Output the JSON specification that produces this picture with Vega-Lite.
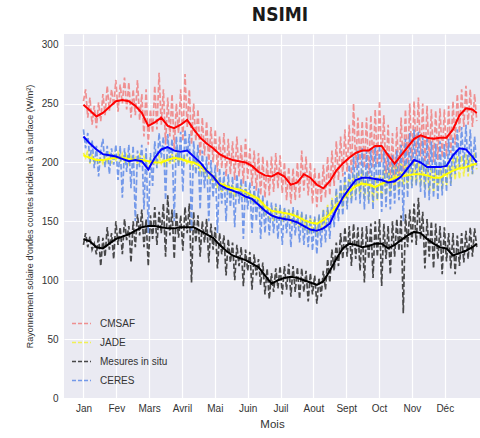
{
  "$schema": "https://vega.github.io/schema/vega-lite/v6.json",
  "width": 416,
  "height": 364,
  "autosize": {"type": "none"},
  "padding": {"left": 64, "top": 34, "right": 0, "bottom": 40},
  "background": "white",
  "title": {
    "text": "NSIMI",
    "font": "DejaVu Sans Condensed, Liberation Sans, sans-serif",
    "fontSize": 19,
    "fontWeight": "bold",
    "color": "#1a1a1a",
    "anchor": "middle",
    "dx": 8,
    "offset": 9
  },
  "config": {
    "view": {"fill": "#eaeaf2", "stroke": null},
    "font": "Liberation Sans",
    "axis": {
      "domain": false,
      "ticks": false,
      "tickSize": 0,
      "grid": true,
      "gridColor": "#ffffff",
      "gridWidth": 1.2,
      "labelColor": "#333333",
      "labelFont": "Liberation Sans",
      "labelFontSize": 10,
      "titleColor": "#333333",
      "titleFont": "Liberation Sans",
      "titleFontWeight": "normal"
    }
  },
  "datasets": {
    "brut": [
      {"jour": 0, "CMSAF": 252, "JADE": 208, "Mesures in situ": 130, "CERES": 228},
      {"jour": 2, "CMSAF": 262, "JADE": 204, "Mesures in situ": 140, "CERES": 212},
      {"jour": 4, "CMSAF": 238, "JADE": 210, "Mesures in situ": 128, "CERES": 225},
      {"jour": 6, "CMSAF": 255, "JADE": 199, "Mesures in situ": 137, "CERES": 200},
      {"jour": 8, "CMSAF": 232, "JADE": 206, "Mesures in situ": 126, "CERES": 219},
      {"jour": 10, "CMSAF": 248, "JADE": 200, "Mesures in situ": 131, "CERES": 195},
      {"jour": 12, "CMSAF": 229, "JADE": 204, "Mesures in situ": 122, "CERES": 214},
      {"jour": 14, "CMSAF": 251, "JADE": 198, "Mesures in situ": 138, "CERES": 188},
      {"jour": 16, "CMSAF": 235, "JADE": 203, "Mesures in situ": 112, "CERES": 210},
      {"jour": 18, "CMSAF": 258, "JADE": 199, "Mesures in situ": 136, "CERES": 220},
      {"jour": 20, "CMSAF": 240, "JADE": 206, "Mesures in situ": 120, "CERES": 196},
      {"jour": 22, "CMSAF": 265, "JADE": 201, "Mesures in situ": 145, "CERES": 214},
      {"jour": 24, "CMSAF": 244, "JADE": 207, "Mesures in situ": 126, "CERES": 190},
      {"jour": 26, "CMSAF": 262, "JADE": 199, "Mesures in situ": 140, "CERES": 212},
      {"jour": 28, "CMSAF": 248, "JADE": 206, "Mesures in situ": 118, "CERES": 198},
      {"jour": 30, "CMSAF": 270, "JADE": 202, "Mesures in situ": 150, "CERES": 215},
      {"jour": 32, "CMSAF": 243, "JADE": 208, "Mesures in situ": 130, "CERES": 185},
      {"jour": 34, "CMSAF": 266, "JADE": 200, "Mesures in situ": 145, "CERES": 214},
      {"jour": 36, "CMSAF": 250, "JADE": 207, "Mesures in situ": 122, "CERES": 170},
      {"jour": 38, "CMSAF": 272, "JADE": 201, "Mesures in situ": 152, "CERES": 212},
      {"jour": 40, "CMSAF": 245, "JADE": 206, "Mesures in situ": 134, "CERES": 192},
      {"jour": 42, "CMSAF": 268, "JADE": 199, "Mesures in situ": 146, "CERES": 215},
      {"jour": 44, "CMSAF": 238, "JADE": 205, "Mesures in situ": 115, "CERES": 178},
      {"jour": 46, "CMSAF": 262, "JADE": 200, "Mesures in situ": 150, "CERES": 214},
      {"jour": 48, "CMSAF": 240, "JADE": 204, "Mesures in situ": 128, "CERES": 150},
      {"jour": 50, "CMSAF": 270, "JADE": 199, "Mesures in situ": 156, "CERES": 210},
      {"jour": 52, "CMSAF": 236, "JADE": 206, "Mesures in situ": 138, "CERES": 196},
      {"jour": 54, "CMSAF": 258, "JADE": 200, "Mesures in situ": 160, "CERES": 215},
      {"jour": 56, "CMSAF": 222, "JADE": 205, "Mesures in situ": 128, "CERES": 160},
      {"jour": 58, "CMSAF": 262, "JADE": 198, "Mesures in situ": 152, "CERES": 212},
      {"jour": 60, "CMSAF": 215, "JADE": 196, "Mesures in situ": 112, "CERES": 140},
      {"jour": 62, "CMSAF": 245, "JADE": 203, "Mesures in situ": 155, "CERES": 208},
      {"jour": 64, "CMSAF": 225, "JADE": 199, "Mesures in situ": 135, "CERES": 180},
      {"jour": 66, "CMSAF": 265, "JADE": 204, "Mesures in situ": 162, "CERES": 218},
      {"jour": 68, "CMSAF": 228, "JADE": 198, "Mesures in situ": 130, "CERES": 195},
      {"jour": 70, "CMSAF": 276, "JADE": 205, "Mesures in situ": 158, "CERES": 225},
      {"jour": 72, "CMSAF": 232, "JADE": 199, "Mesures in situ": 140, "CERES": 204},
      {"jour": 74, "CMSAF": 262, "JADE": 204, "Mesures in situ": 165, "CERES": 222},
      {"jour": 76, "CMSAF": 215, "JADE": 196, "Mesures in situ": 120, "CERES": 168},
      {"jour": 78, "CMSAF": 255, "JADE": 206, "Mesures in situ": 172, "CERES": 224},
      {"jour": 80, "CMSAF": 222, "JADE": 198, "Mesures in situ": 138, "CERES": 200},
      {"jour": 82, "CMSAF": 258, "JADE": 207, "Mesures in situ": 160, "CERES": 220},
      {"jour": 84, "CMSAF": 210, "JADE": 200, "Mesures in situ": 118, "CERES": 150},
      {"jour": 86, "CMSAF": 250, "JADE": 208, "Mesures in situ": 158, "CERES": 222},
      {"jour": 88, "CMSAF": 225, "JADE": 199, "Mesures in situ": 136, "CERES": 196},
      {"jour": 90, "CMSAF": 262, "JADE": 206, "Mesures in situ": 155, "CERES": 226},
      {"jour": 92, "CMSAF": 218, "JADE": 200, "Mesures in situ": 125, "CERES": 175},
      {"jour": 94, "CMSAF": 275, "JADE": 205, "Mesures in situ": 162, "CERES": 228},
      {"jour": 96, "CMSAF": 230, "JADE": 198, "Mesures in situ": 140, "CERES": 205},
      {"jour": 98, "CMSAF": 262, "JADE": 204, "Mesures in situ": 165, "CERES": 224},
      {"jour": 100, "CMSAF": 215, "JADE": 196, "Mesures in situ": 98, "CERES": 142},
      {"jour": 102, "CMSAF": 250, "JADE": 203, "Mesures in situ": 158, "CERES": 218},
      {"jour": 104, "CMSAF": 218, "JADE": 194, "Mesures in situ": 132, "CERES": 190},
      {"jour": 106, "CMSAF": 245, "JADE": 200, "Mesures in situ": 155, "CERES": 215},
      {"jour": 108, "CMSAF": 205, "JADE": 192, "Mesures in situ": 120, "CERES": 160},
      {"jour": 110, "CMSAF": 238, "JADE": 198, "Mesures in situ": 150, "CERES": 210},
      {"jour": 112, "CMSAF": 206, "JADE": 189, "Mesures in situ": 132, "CERES": 178},
      {"jour": 114, "CMSAF": 235, "JADE": 196, "Mesures in situ": 152, "CERES": 205},
      {"jour": 116, "CMSAF": 198, "JADE": 186, "Mesures in situ": 115, "CERES": 150},
      {"jour": 118, "CMSAF": 230, "JADE": 192, "Mesures in situ": 148, "CERES": 202},
      {"jour": 120, "CMSAF": 200, "JADE": 183, "Mesures in situ": 126, "CERES": 170},
      {"jour": 122, "CMSAF": 228, "JADE": 190, "Mesures in situ": 145, "CERES": 198},
      {"jour": 124, "CMSAF": 192, "JADE": 178, "Mesures in situ": 110, "CERES": 140},
      {"jour": 126, "CMSAF": 222, "JADE": 186, "Mesures in situ": 140, "CERES": 195},
      {"jour": 128, "CMSAF": 195, "JADE": 175, "Mesures in situ": 122, "CERES": 165},
      {"jour": 130, "CMSAF": 225, "JADE": 184, "Mesures in situ": 138, "CERES": 192},
      {"jour": 132, "CMSAF": 188, "JADE": 176, "Mesures in situ": 104, "CERES": 150},
      {"jour": 134, "CMSAF": 220, "JADE": 183, "Mesures in situ": 135, "CERES": 190},
      {"jour": 136, "CMSAF": 190, "JADE": 172, "Mesures in situ": 115, "CERES": 162},
      {"jour": 138, "CMSAF": 218, "JADE": 181, "Mesures in situ": 132, "CERES": 188},
      {"jour": 140, "CMSAF": 185, "JADE": 170, "Mesures in situ": 100, "CERES": 145},
      {"jour": 142, "CMSAF": 222, "JADE": 180, "Mesures in situ": 130, "CERES": 190},
      {"jour": 144, "CMSAF": 188, "JADE": 174, "Mesures in situ": 112, "CERES": 165},
      {"jour": 146, "CMSAF": 215, "JADE": 181, "Mesures in situ": 128, "CERES": 186},
      {"jour": 148, "CMSAF": 182, "JADE": 170, "Mesures in situ": 95, "CERES": 135},
      {"jour": 150, "CMSAF": 220, "JADE": 178, "Mesures in situ": 126, "CERES": 185},
      {"jour": 152, "CMSAF": 186, "JADE": 170, "Mesures in situ": 108, "CERES": 160},
      {"jour": 154, "CMSAF": 212, "JADE": 176, "Mesures in situ": 124, "CERES": 183},
      {"jour": 156, "CMSAF": 180, "JADE": 166, "Mesures in situ": 92, "CERES": 140},
      {"jour": 158, "CMSAF": 210, "JADE": 174, "Mesures in situ": 122, "CERES": 180},
      {"jour": 160, "CMSAF": 176, "JADE": 163, "Mesures in situ": 104, "CERES": 150},
      {"jour": 162, "CMSAF": 208, "JADE": 172, "Mesures in situ": 118, "CERES": 178},
      {"jour": 164, "CMSAF": 172, "JADE": 160, "Mesures in situ": 96, "CERES": 135},
      {"jour": 166, "CMSAF": 205, "JADE": 168, "Mesures in situ": 115, "CERES": 172},
      {"jour": 168, "CMSAF": 170, "JADE": 155, "Mesures in situ": 88, "CERES": 140},
      {"jour": 170, "CMSAF": 202, "JADE": 164, "Mesures in situ": 110, "CERES": 168},
      {"jour": 172, "CMSAF": 172, "JADE": 152, "Mesures in situ": 84, "CERES": 138},
      {"jour": 174, "CMSAF": 205, "JADE": 162, "Mesures in situ": 106, "CERES": 166},
      {"jour": 176, "CMSAF": 175, "JADE": 150, "Mesures in situ": 90, "CERES": 140},
      {"jour": 178, "CMSAF": 208, "JADE": 163, "Mesures in situ": 110, "CERES": 165},
      {"jour": 180, "CMSAF": 178, "JADE": 152, "Mesures in situ": 93, "CERES": 135},
      {"jour": 182, "CMSAF": 206, "JADE": 162, "Mesures in situ": 112, "CERES": 164},
      {"jour": 184, "CMSAF": 174, "JADE": 150, "Mesures in situ": 88, "CERES": 130},
      {"jour": 186, "CMSAF": 200, "JADE": 160, "Mesures in situ": 112, "CERES": 162},
      {"jour": 188, "CMSAF": 168, "JADE": 150, "Mesures in situ": 92, "CERES": 140},
      {"jour": 190, "CMSAF": 196, "JADE": 160, "Mesures in situ": 114, "CERES": 160},
      {"jour": 192, "CMSAF": 165, "JADE": 148, "Mesures in situ": 86, "CERES": 128},
      {"jour": 194, "CMSAF": 195, "JADE": 160, "Mesures in situ": 112, "CERES": 162},
      {"jour": 196, "CMSAF": 168, "JADE": 146, "Mesures in situ": 90, "CERES": 138},
      {"jour": 198, "CMSAF": 200, "JADE": 158, "Mesures in situ": 111, "CERES": 160},
      {"jour": 200, "CMSAF": 170, "JADE": 145, "Mesures in situ": 84, "CERES": 132},
      {"jour": 202, "CMSAF": 210, "JADE": 157, "Mesures in situ": 110, "CERES": 158},
      {"jour": 204, "CMSAF": 176, "JADE": 143, "Mesures in situ": 90, "CERES": 130},
      {"jour": 206, "CMSAF": 205, "JADE": 155, "Mesures in situ": 108, "CERES": 156},
      {"jour": 208, "CMSAF": 172, "JADE": 140, "Mesures in situ": 82, "CERES": 128},
      {"jour": 210, "CMSAF": 200, "JADE": 154, "Mesures in situ": 106, "CERES": 155},
      {"jour": 212, "CMSAF": 165, "JADE": 140, "Mesures in situ": 88, "CERES": 125},
      {"jour": 214, "CMSAF": 195, "JADE": 153, "Mesures in situ": 104, "CERES": 154},
      {"jour": 216, "CMSAF": 162, "JADE": 138, "Mesures in situ": 80, "CERES": 122},
      {"jour": 218, "CMSAF": 192, "JADE": 155, "Mesures in situ": 102, "CERES": 156},
      {"jour": 220, "CMSAF": 166, "JADE": 142, "Mesures in situ": 86, "CERES": 128},
      {"jour": 222, "CMSAF": 198, "JADE": 160, "Mesures in situ": 108, "CERES": 160},
      {"jour": 224, "CMSAF": 170, "JADE": 145, "Mesures in situ": 92, "CERES": 132},
      {"jour": 226, "CMSAF": 205, "JADE": 164, "Mesures in situ": 118, "CERES": 162},
      {"jour": 228, "CMSAF": 172, "JADE": 148, "Mesures in situ": 98, "CERES": 135},
      {"jour": 230, "CMSAF": 210, "JADE": 170, "Mesures in situ": 126, "CERES": 168},
      {"jour": 232, "CMSAF": 180, "JADE": 154, "Mesures in situ": 108, "CERES": 145},
      {"jour": 234, "CMSAF": 218, "JADE": 175, "Mesures in situ": 132, "CERES": 178},
      {"jour": 236, "CMSAF": 185, "JADE": 158, "Mesures in situ": 112, "CERES": 150},
      {"jour": 238, "CMSAF": 222, "JADE": 180, "Mesures in situ": 140, "CERES": 185},
      {"jour": 240, "CMSAF": 188, "JADE": 162, "Mesures in situ": 118, "CERES": 155},
      {"jour": 242, "CMSAF": 228, "JADE": 184, "Mesures in situ": 145, "CERES": 192},
      {"jour": 244, "CMSAF": 192, "JADE": 165, "Mesures in situ": 120, "CERES": 160},
      {"jour": 246, "CMSAF": 232, "JADE": 188, "Mesures in situ": 146, "CERES": 198},
      {"jour": 248, "CMSAF": 190, "JADE": 168, "Mesures in situ": 112, "CERES": 165},
      {"jour": 250, "CMSAF": 250, "JADE": 190, "Mesures in situ": 148, "CERES": 205},
      {"jour": 252, "CMSAF": 195, "JADE": 172, "Mesures in situ": 118, "CERES": 168},
      {"jour": 254, "CMSAF": 238, "JADE": 192, "Mesures in situ": 145, "CERES": 210},
      {"jour": 256, "CMSAF": 198, "JADE": 172, "Mesures in situ": 108, "CERES": 165},
      {"jour": 258, "CMSAF": 235, "JADE": 194, "Mesures in situ": 145, "CERES": 212},
      {"jour": 260, "CMSAF": 195, "JADE": 170, "Mesures in situ": 98, "CERES": 160},
      {"jour": 262, "CMSAF": 238, "JADE": 192, "Mesures in situ": 146, "CERES": 210},
      {"jour": 264, "CMSAF": 190, "JADE": 168, "Mesures in situ": 118, "CERES": 165},
      {"jour": 266, "CMSAF": 240, "JADE": 190, "Mesures in situ": 148, "CERES": 212},
      {"jour": 268, "CMSAF": 196, "JADE": 166, "Mesures in situ": 102, "CERES": 160},
      {"jour": 270, "CMSAF": 245, "JADE": 188, "Mesures in situ": 150, "CERES": 214},
      {"jour": 272, "CMSAF": 198, "JADE": 168, "Mesures in situ": 120, "CERES": 168},
      {"jour": 274, "CMSAF": 252, "JADE": 190, "Mesures in situ": 152, "CERES": 215},
      {"jour": 276, "CMSAF": 200, "JADE": 170, "Mesures in situ": 95, "CERES": 158},
      {"jour": 278, "CMSAF": 240, "JADE": 194, "Mesures in situ": 148, "CERES": 210},
      {"jour": 280, "CMSAF": 190, "JADE": 172, "Mesures in situ": 118, "CERES": 162},
      {"jour": 282, "CMSAF": 232, "JADE": 196, "Mesures in situ": 146, "CERES": 208},
      {"jour": 284, "CMSAF": 185, "JADE": 175, "Mesures in situ": 105, "CERES": 160},
      {"jour": 286, "CMSAF": 225, "JADE": 198, "Mesures in situ": 150, "CERES": 206},
      {"jour": 288, "CMSAF": 180, "JADE": 176, "Mesures in situ": 120, "CERES": 165},
      {"jour": 290, "CMSAF": 230, "JADE": 198, "Mesures in situ": 152, "CERES": 210},
      {"jour": 292, "CMSAF": 185, "JADE": 178, "Mesures in situ": 125, "CERES": 168},
      {"jour": 294, "CMSAF": 238, "JADE": 200, "Mesures in situ": 155, "CERES": 215},
      {"jour": 296, "CMSAF": 192, "JADE": 180, "Mesures in situ": 72, "CERES": 150},
      {"jour": 298, "CMSAF": 245, "JADE": 200, "Mesures in situ": 156, "CERES": 220},
      {"jour": 300, "CMSAF": 195, "JADE": 178, "Mesures in situ": 128, "CERES": 170},
      {"jour": 302, "CMSAF": 250, "JADE": 200, "Mesures in situ": 160, "CERES": 225},
      {"jour": 304, "CMSAF": 200, "JADE": 180, "Mesures in situ": 132, "CERES": 178},
      {"jour": 306, "CMSAF": 252, "JADE": 202, "Mesures in situ": 165, "CERES": 228},
      {"jour": 308, "CMSAF": 205, "JADE": 182, "Mesures in situ": 130, "CERES": 180},
      {"jour": 310, "CMSAF": 255, "JADE": 201, "Mesures in situ": 170, "CERES": 226},
      {"jour": 312, "CMSAF": 205, "JADE": 180, "Mesures in situ": 135, "CERES": 175},
      {"jour": 314, "CMSAF": 250, "JADE": 200, "Mesures in situ": 158, "CERES": 222},
      {"jour": 316, "CMSAF": 200, "JADE": 178, "Mesures in situ": 110, "CERES": 170},
      {"jour": 318, "CMSAF": 248, "JADE": 199, "Mesures in situ": 152, "CERES": 220},
      {"jour": 320, "CMSAF": 198, "JADE": 176, "Mesures in situ": 120, "CERES": 168},
      {"jour": 322, "CMSAF": 245, "JADE": 197, "Mesures in situ": 150, "CERES": 218},
      {"jour": 324, "CMSAF": 200, "JADE": 175, "Mesures in situ": 110, "CERES": 170},
      {"jour": 326, "CMSAF": 244, "JADE": 196, "Mesures in situ": 148, "CERES": 216},
      {"jour": 328, "CMSAF": 202, "JADE": 176, "Mesures in situ": 118, "CERES": 168},
      {"jour": 330, "CMSAF": 246, "JADE": 198, "Mesures in situ": 146, "CERES": 218},
      {"jour": 332, "CMSAF": 204, "JADE": 177, "Mesures in situ": 105, "CERES": 172},
      {"jour": 334, "CMSAF": 245, "JADE": 200, "Mesures in situ": 145, "CERES": 216},
      {"jour": 336, "CMSAF": 205, "JADE": 180, "Mesures in situ": 116, "CERES": 175},
      {"jour": 338, "CMSAF": 248, "JADE": 202, "Mesures in situ": 140, "CERES": 220},
      {"jour": 340, "CMSAF": 208, "JADE": 182, "Mesures in situ": 110, "CERES": 180},
      {"jour": 342, "CMSAF": 252, "JADE": 205, "Mesures in situ": 140, "CERES": 222},
      {"jour": 344, "CMSAF": 215, "JADE": 185, "Mesures in situ": 105, "CERES": 190},
      {"jour": 346, "CMSAF": 258, "JADE": 206, "Mesures in situ": 138, "CERES": 228},
      {"jour": 348, "CMSAF": 225, "JADE": 186, "Mesures in situ": 112, "CERES": 195},
      {"jour": 350, "CMSAF": 262, "JADE": 206, "Mesures in situ": 140, "CERES": 230},
      {"jour": 352, "CMSAF": 230, "JADE": 188, "Mesures in situ": 115, "CERES": 195},
      {"jour": 354, "CMSAF": 265, "JADE": 207, "Mesures in situ": 142, "CERES": 232},
      {"jour": 356, "CMSAF": 232, "JADE": 188, "Mesures in situ": 118, "CERES": 192},
      {"jour": 358, "CMSAF": 262, "JADE": 206, "Mesures in situ": 145, "CERES": 228},
      {"jour": 360, "CMSAF": 230, "JADE": 190, "Mesures in situ": 120, "CERES": 190},
      {"jour": 362, "CMSAF": 258, "JADE": 208, "Mesures in situ": 144, "CERES": 222},
      {"jour": 364, "CMSAF": 235, "JADE": 194, "Mesures in situ": 128, "CERES": 195}
    ],
    "lisse": [
      {"jour": 0, "CMSAF": 249, "JADE": 206, "Mesures in situ": 135, "CERES": 222},
      {"jour": 6, "CMSAF": 244, "JADE": 204, "Mesures in situ": 133, "CERES": 216},
      {"jour": 12, "CMSAF": 239, "JADE": 202, "Mesures in situ": 128, "CERES": 211},
      {"jour": 18, "CMSAF": 242, "JADE": 202, "Mesures in situ": 127, "CERES": 207},
      {"jour": 24, "CMSAF": 247, "JADE": 203, "Mesures in situ": 131, "CERES": 206},
      {"jour": 30, "CMSAF": 252, "JADE": 204, "Mesures in situ": 135, "CERES": 205},
      {"jour": 36, "CMSAF": 253, "JADE": 204, "Mesures in situ": 137, "CERES": 203},
      {"jour": 42, "CMSAF": 252, "JADE": 203, "Mesures in situ": 139, "CERES": 201},
      {"jour": 48, "CMSAF": 248, "JADE": 202, "Mesures in situ": 142, "CERES": 202},
      {"jour": 54, "CMSAF": 242, "JADE": 202, "Mesures in situ": 145, "CERES": 201},
      {"jour": 60, "CMSAF": 231, "JADE": 201, "Mesures in situ": 146, "CERES": 194},
      {"jour": 66, "CMSAF": 234, "JADE": 200, "Mesures in situ": 146, "CERES": 204},
      {"jour": 72, "CMSAF": 238, "JADE": 200, "Mesures in situ": 145, "CERES": 211},
      {"jour": 78, "CMSAF": 231, "JADE": 202, "Mesures in situ": 144, "CERES": 213},
      {"jour": 84, "CMSAF": 229, "JADE": 204, "Mesures in situ": 144, "CERES": 210},
      {"jour": 90, "CMSAF": 232, "JADE": 203, "Mesures in situ": 145, "CERES": 209},
      {"jour": 96, "CMSAF": 236, "JADE": 201, "Mesures in situ": 145, "CERES": 210},
      {"jour": 102, "CMSAF": 228, "JADE": 200, "Mesures in situ": 145, "CERES": 205},
      {"jour": 108, "CMSAF": 221, "JADE": 197, "Mesures in situ": 142, "CERES": 200},
      {"jour": 114, "CMSAF": 216, "JADE": 193, "Mesures in situ": 139, "CERES": 193},
      {"jour": 120, "CMSAF": 212, "JADE": 188, "Mesures in situ": 136, "CERES": 188},
      {"jour": 126, "CMSAF": 207, "JADE": 182, "Mesures in situ": 130, "CERES": 181},
      {"jour": 132, "CMSAF": 204, "JADE": 180, "Mesures in situ": 125, "CERES": 178},
      {"jour": 138, "CMSAF": 202, "JADE": 178, "Mesures in situ": 121, "CERES": 176},
      {"jour": 144, "CMSAF": 201, "JADE": 177, "Mesures in situ": 119, "CERES": 174},
      {"jour": 150, "CMSAF": 200, "JADE": 175, "Mesures in situ": 117, "CERES": 171},
      {"jour": 156, "CMSAF": 197, "JADE": 172, "Mesures in situ": 114, "CERES": 169},
      {"jour": 162, "CMSAF": 192, "JADE": 169, "Mesures in situ": 111, "CERES": 164},
      {"jour": 168, "CMSAF": 189, "JADE": 163, "Mesures in situ": 104, "CERES": 159},
      {"jour": 174, "CMSAF": 188, "JADE": 159, "Mesures in situ": 97, "CERES": 155},
      {"jour": 180, "CMSAF": 191, "JADE": 158, "Mesures in situ": 100, "CERES": 153},
      {"jour": 186, "CMSAF": 188, "JADE": 157, "Mesures in situ": 102, "CERES": 152},
      {"jour": 192, "CMSAF": 181, "JADE": 156, "Mesures in situ": 103, "CERES": 151},
      {"jour": 198, "CMSAF": 183, "JADE": 154, "Mesures in situ": 102, "CERES": 149},
      {"jour": 204, "CMSAF": 190, "JADE": 151, "Mesures in situ": 100, "CERES": 146},
      {"jour": 210, "CMSAF": 187, "JADE": 149, "Mesures in situ": 98, "CERES": 143},
      {"jour": 216, "CMSAF": 181, "JADE": 148, "Mesures in situ": 96, "CERES": 142},
      {"jour": 222, "CMSAF": 178, "JADE": 151, "Mesures in situ": 99, "CERES": 144},
      {"jour": 228, "CMSAF": 184, "JADE": 156, "Mesures in situ": 108, "CERES": 148},
      {"jour": 234, "CMSAF": 193, "JADE": 163, "Mesures in situ": 118, "CERES": 160},
      {"jour": 240, "CMSAF": 199, "JADE": 169, "Mesures in situ": 127, "CERES": 170},
      {"jour": 246, "CMSAF": 204, "JADE": 175, "Mesures in situ": 131, "CERES": 178},
      {"jour": 252, "CMSAF": 208, "JADE": 180, "Mesures in situ": 130, "CERES": 185},
      {"jour": 258, "CMSAF": 210, "JADE": 182, "Mesures in situ": 128, "CERES": 187},
      {"jour": 264, "CMSAF": 210, "JADE": 181, "Mesures in situ": 129, "CERES": 187},
      {"jour": 270, "CMSAF": 214, "JADE": 179, "Mesures in situ": 131, "CERES": 186},
      {"jour": 276, "CMSAF": 214, "JADE": 182, "Mesures in situ": 131, "CERES": 185},
      {"jour": 282, "CMSAF": 206, "JADE": 184, "Mesures in situ": 127, "CERES": 183},
      {"jour": 288, "CMSAF": 199, "JADE": 187, "Mesures in situ": 130, "CERES": 184},
      {"jour": 294, "CMSAF": 206, "JADE": 188, "Mesures in situ": 134, "CERES": 188},
      {"jour": 300, "CMSAF": 213, "JADE": 189, "Mesures in situ": 138, "CERES": 195},
      {"jour": 306, "CMSAF": 220, "JADE": 190, "Mesures in situ": 141, "CERES": 202},
      {"jour": 312, "CMSAF": 223, "JADE": 190, "Mesures in situ": 140, "CERES": 200},
      {"jour": 318, "CMSAF": 221, "JADE": 189, "Mesures in situ": 135, "CERES": 196},
      {"jour": 324, "CMSAF": 220, "JADE": 187, "Mesures in situ": 131, "CERES": 196},
      {"jour": 330, "CMSAF": 221, "JADE": 187, "Mesures in situ": 128, "CERES": 196},
      {"jour": 336, "CMSAF": 221, "JADE": 190, "Mesures in situ": 127, "CERES": 197},
      {"jour": 342, "CMSAF": 228, "JADE": 193, "Mesures in situ": 121, "CERES": 206},
      {"jour": 348, "CMSAF": 240, "JADE": 195, "Mesures in situ": 123, "CERES": 212},
      {"jour": 354, "CMSAF": 246, "JADE": 196, "Mesures in situ": 125, "CERES": 211},
      {"jour": 360, "CMSAF": 245, "JADE": 198, "Mesures in situ": 128, "CERES": 205},
      {"jour": 364, "CMSAF": 242, "JADE": 199, "Mesures in situ": 131, "CERES": 200}
    ]
  },
  "encoding": {
    "x": {
      "field": "jour",
      "type": "quantitative",
      "scale": {"domain": [-18, 367], "nice": false, "zero": false},
      "axis": {
        "values": [0, 30.4, 60.8, 91.2, 121.6, 152, 182.4, 212.8, 243.2, 273.6, 304, 334.4],
        "labelExpr": "['Jan','Fev','Mars','Avril','Mai','Juin','Juil','Aout','Sept','Oct','Nov','Déc'][round(datum.value / 30.4)]",
        "labelPadding": 5,
        "title": "Mois",
        "titleFontSize": 11.5,
        "titlePadding": 5
      }
    },
    "y": {
      "field": "valeur",
      "type": "quantitative",
      "scale": {"domain": [0, 309], "nice": false},
      "axis": {
        "values": [0, 50, 100, 150, 200, 250, 300],
        "labelPadding": 6,
        "title": "Rayonnement solaire d'ondes courtes incident à la surface  (W/m²)",
        "titleFontSize": 9,
        "titlePadding": 7
      }
    }
  },
  "layer": [
    {
      "data": {"name": "brut"},
      "transform": [{"fold": ["CMSAF", "JADE", "Mesures in situ", "CERES"], "as": ["serie", "valeur"]}],
      "mark": {"type": "line", "strokeWidth": 1.7, "strokeDash": [5.5, 2.4], "opacity": 0.85, "clip": true},
      "encoding": {
        "color": {
          "field": "serie",
          "type": "nominal",
          "sort": ["CMSAF", "JADE", "Mesures in situ", "CERES"],
          "scale": {
            "domain": ["CMSAF", "JADE", "Mesures in situ", "CERES"],
            "range": ["#f08080", "#f2f23a", "#2b2b2b", "#5f8be8"]
          },
          "legend": {
            "title": null,
            "orient": "none",
            "legendX": 7,
            "legendY": 279,
            "padding": 0,
            "symbolType": "stroke",
            "symbolSize": 361,
            "symbolStrokeWidth": 1.6,
            "symbolDash": [4, 2],
            "rowPadding": 3,
            "labelOffset": 8,
            "labelFontSize": 10,
            "labelColor": "#333333",
            "labelFont": "Liberation Sans"
          }
        }
      }
    },
    {
      "data": {"name": "lisse"},
      "transform": [{"fold": ["CMSAF", "JADE", "Mesures in situ", "CERES"], "as": ["serie", "valeur"]}],
      "mark": {"type": "line", "strokeWidth": 2, "clip": true},
      "encoding": {
        "color": {
          "field": "serie",
          "type": "nominal",
          "scale": {
            "domain": ["CMSAF", "JADE", "Mesures in situ", "CERES"],
            "range": ["#ff0000", "#ffff00", "#000000", "#0000ff"]
          },
          "legend": null
        }
      }
    }
  ],
  "resolve": {"scale": {"color": "independent"}}
}
